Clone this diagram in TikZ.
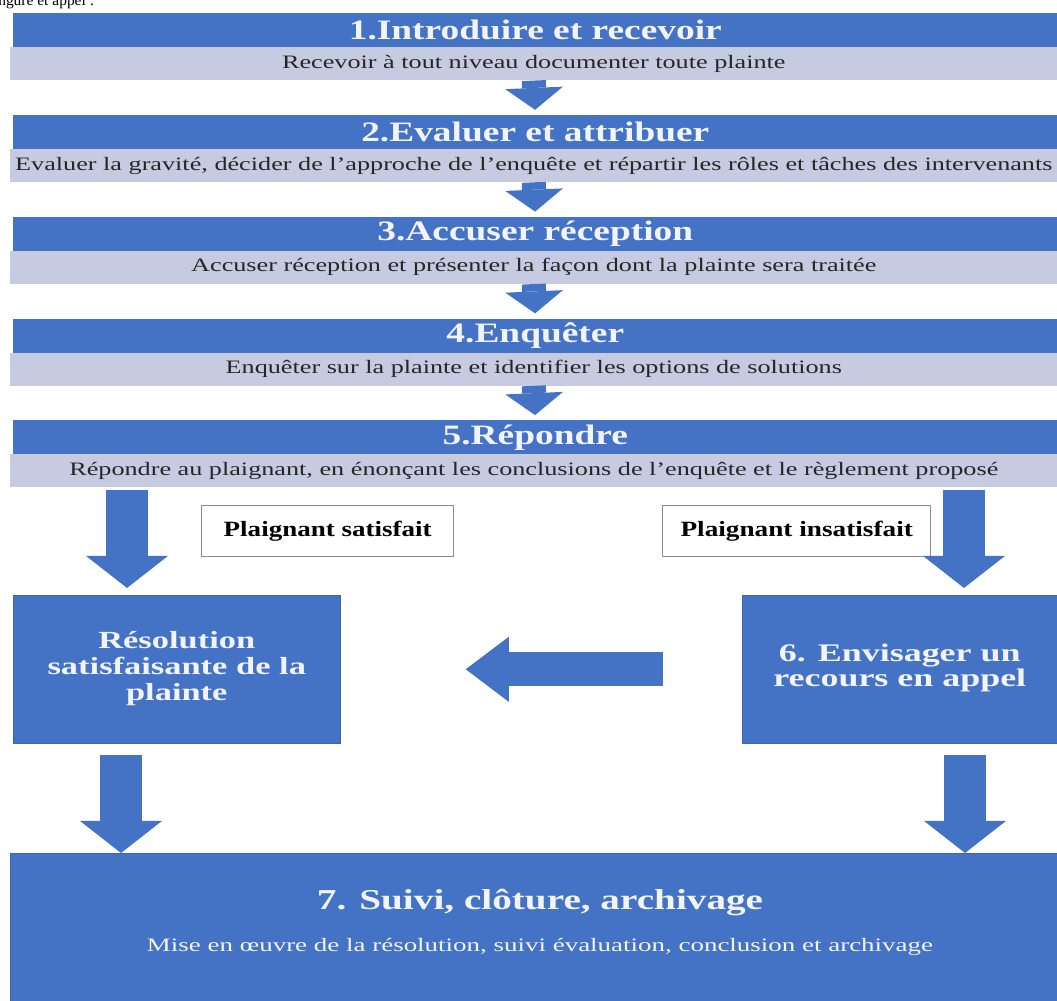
\documentclass[tikz,border=0pt]{standalone}
\usepackage{fontspec}
\setmainfont{Liberation Serif}
\usetikzlibrary{arrows.meta}
\newcommand{\widetxt}[2][1.33]{\scalebox{#1}[1]{#2}}

\begin{document}
\begin{tikzpicture}[x=0.025cm, y=-0.025cm,
    darkbar/.style={fill=barBlue, text=titleWhite, inner sep=0pt, anchor=north west,
        minimum width=1044*0.025cm, minimum height=34*0.025cm,
        font=\fontsize{20}{22}\selectfont\bfseries},
    lightbar/.style={fill=bandGrey, text=bodyText, inner sep=0pt, anchor=north west,
        minimum width=1047*0.025cm, minimum height=33*0.025cm,
        font=\fontsize{13.5}{15}\selectfont},
    flowarrow/.style={draw=barBlue, line width=17.1pt, shorten >=3.5pt,
        -{Triangle[width=41pt, length=15.6pt, line width=0pt]}},
    bigarrow/.style={draw=barBlue, line width=29.9pt,
        -{Triangle[width=58.3pt, length=22.8pt, line width=0pt]}},
    backarrow/.style={draw=barBlue, line width=24.2pt,
        -{Triangle[width=46.2pt, length=30.6pt, line width=0pt]}},
    labelbox/.style={draw=boxEdge, line width=1pt, fill=white, text=black, inner sep=0pt,
        anchor=north west, minimum height=51*0.025cm,
        font=\fontsize{15.5}{17}\selectfont\bfseries},
    bluebox/.style={fill=barBlue, draw=boxBlue, text=titleWhite, inner sep=0pt,
        anchor=north west, minimum height=148*0.025cm,
        font=\fontsize{17.5}{18.5}\selectfont\bfseries}
]
    \definecolor{barBlue}{HTML}{4472C4}
    \definecolor{boxBlue}{HTML}{3A65B3}
    \definecolor{bandGrey}{HTML}{C7CBE2}
    \definecolor{titleWhite}{HTML}{F2F4FA}
    \definecolor{bodyText}{HTML}{262626}
    \definecolor{boxEdge}{HTML}{8C8C8C}

    \useasboundingbox (0,0) rectangle (1057,1000);
    \clip (0,0) rectangle (1057,1000);

    % Cut-off line of the page above
    \node[anchor=base west, inner sep=0pt, font=\fontsize{11}{12}\selectfont] (pagetxt) at (-2,5) {ngure et appel :};

    % Steps 1 to 5: title bar and description band
    \foreach \i/\ttl/\txt in {
        1/{1.Introduire et recevoir}/{Recevoir à tout niveau documenter toute plainte},
        2/{2.Evaluer et attribuer}/{Evaluer la gravité, décider de l'approche de l'enquête et répartir les rôles et tâches des intervenants},
        3/{3.Accuser réception}/{Accuser réception et présenter la façon dont la plainte sera traitée},
        4/{4.Enquêter}/{Enquêter sur la plainte et identifier les options de solutions},
        5/{5.Répondre}/{Répondre au plaignant, en énonçant les conclusions de l'enquête et le règlement proposé}}
    {
        \pgfmathsetmacro{\top}{13+(\i-1)*101.75}
        \node[darkbar] (t\i) at (13,\top) {\widetxt{\ttl}};
        \node[lightbar] (d\i) at (10,\top+34) {\widetxt[1.38]{\txt}};
    }

    % Arrows between the steps
    \foreach \i [evaluate=\i as \j using int(\i+1)] in {1,...,4}
        \draw[flowarrow] (d\i.south) -- (t\j.north);

    % Outcome labels
    \node[labelbox, minimum width=252*0.025cm] (sat) at (201,505) {\widetxt[1.24]{Plaignant satisfait}};
    \node[labelbox, minimum width=268*0.025cm] (insat) at (662,505) {\widetxt[1.25]{Plaignant insatisfait}};

    % Resolution and appeal boxes
    \node[bluebox, minimum width=327*0.025cm] (res) at (13,595)
        {\widetxt[1.4]{\begin{tabular}{@{}c@{}}Résolution\\satisfaisante de la\\plainte\end{tabular}}};
    \node[bluebox, minimum width=315*0.025cm, font=\fontsize{18}{17.5}\selectfont\bfseries] (env) at (742,595)
        {\widetxt[1.42]{\begin{tabular}{@{}c@{}}6. Envisager un\\recours en appel\end{tabular}}};

    % Step 7
    \node[fill=barBlue, draw=boxBlue, inner sep=0pt, anchor=north west,
        minimum width=1047*0.025cm, minimum height=160*0.025cm] (final) at (10,853) {};
    \node[text=titleWhite, font=\fontsize{20.5}{22}\selectfont\bfseries] (finaltitle) at (540,903)
        {\widetxt[1.36]{7. Suivi, clôture, archivage}};
    \node[text=titleWhite, font=\fontsize{13.5}{15}\selectfont] (finaltxt) at (540,947)
        {\widetxt[1.42]{Mise en œuvre de la résolution, suivi évaluation, conclusion et archivage}};

    % Branch arrows
    \coordinate (satTop) at (127,490);
    \coordinate (insatTop) at (964,490);
    \draw[bigarrow, shorten >=5pt] (satTop) -- (satTop |- res.north);
    \draw[bigarrow, shorten >=5pt] (insatTop) -- (insatTop |- env.north);
    \draw[backarrow, shorten <=56pt, shorten >=89pt] (env.west) -- (res.east);

    % Arrows into step 7
    \coordinate (resOut) at (121,755);
    \coordinate (envOut) at (965,755);
    \draw[bigarrow] (resOut) -- (resOut |- final.north);
    \draw[bigarrow] (envOut) -- (envOut |- final.north);

\end{tikzpicture}
\end{document}
